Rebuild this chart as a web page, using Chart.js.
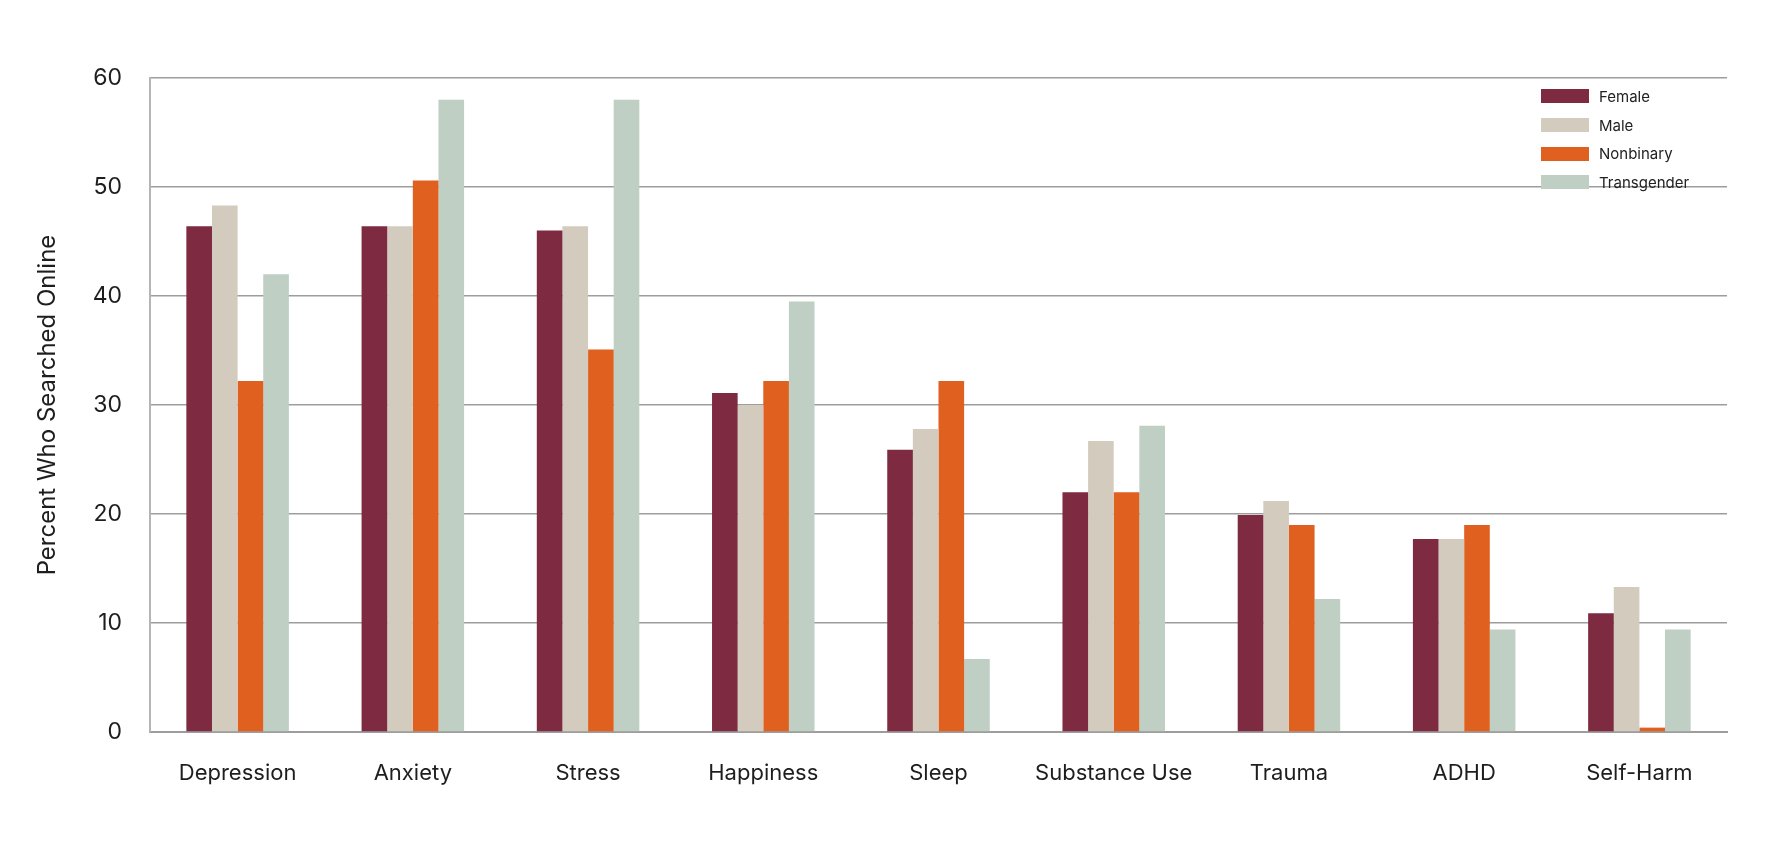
<!DOCTYPE html>
<html>
<head>
<meta charset="utf-8">
<title>Percent Who Searched Online</title>
<script src="https://cdn.jsdelivr.net/npm/chart.js@4.4.1/dist/chart.umd.min.js"></script>
<style>
    body { margin: 0; background: #ffffff; }
    #wrap { position: relative; width: 1783px; height: 848px; }
    #legend {
        position: absolute; left: 1541px; top: 82px;
        font-family: Inter, "Noto Sans", sans-serif; font-size: 15px; color: #222;
    }
    .legend-row { display: flex; align-items: center; height: 28.7px; }
    .legend-box { width: 48px; height: 14px; margin-right: 10px; }
</style>
</head>
<body>
<div id="wrap">
    <canvas id="myChart"></canvas>
    <div id="legend"></div>
</div>
<script>
// categories + values (percent)
const categories = ["Depression", "Anxiety", "Stress", "Happiness", "Sleep", "Substance Use", "Trauma", "ADHD", "Self-Harm"];
const female = [46.4, 46.4, 46.0, 31.1, 25.9, 22.0, 19.9, 17.7, 10.9];
const male = [48.3, 46.4, 46.4, 30.0, 27.8, 26.7, 21.2, 17.7, 13.3];
const nonbinary = [32.2, 50.6, 35.1, 32.2, 32.2, 22.0, 19.0, 19.0, 0.4];
const transgender = [42.0, 58.0, 58.0, 39.5, 6.7, 28.1, 12.2, 9.4, 9.4];
const yTicks = [0, 10, 20, 30, 40, 50, 60];

const seriesNames = ["Female", "Male", "Nonbinary", "Transgender"];
const seriesColors = ["#7e2b41", "#d3cbbe", "#e0601f", "#bfcfc4"];
const seriesData = [female, male, nonbinary, transgender];

const FONT = "Inter, 'Noto Sans', sans-serif";
const gridColor = "#9d9d9d";

let datasets = [];
for (let i = 0; i < seriesNames.length; i++) {
    datasets.push({
        label: seriesNames[i],
        data: seriesData[i],
        backgroundColor: seriesColors[i],
        borderWidth: 0,
        categoryPercentage: 0.585,
        barPercentage: 1.0
    });
}

const ctx = document.getElementById("myChart").getContext("2d");
const myChart = new Chart(ctx, {
    type: "bar",
    data: {
        labels: categories,
        datasets: datasets
    },
    options: {
        responsive: true,
        maintainAspectRatio: false,
        animation: false,
        layout: {
            padding: { left: 0, top: 78, right: 56, bottom: 0 }
        },
        plugins: {
            legend: { display: false },
            tooltip: { enabled: false }
        },
        scales: {
            x: {
                grid: { display: false, drawTicks: false },
                border: { display: true, color: gridColor, width: 2 },
                ticks: {
                    color: "#1e1e1e",
                    padding: 28,
                    font: { family: FONT, size: 22 }
                },
                afterFit: function (scale) {
                    scale.height = 848 - 732;
                }
            },
            y: {
                min: 0,
                max: 60,
                afterBuildTicks: function (scale) {
                    scale.ticks = yTicks.map(v => ({ value: v }));
                },
                grid: { color: gridColor, lineWidth: 1.5, drawTicks: false },
                border: { display: true, color: "#b5b5b5", width: 2 },
                ticks: {
                    color: "#1e1e1e",
                    padding: 28,
                    font: { family: FONT, size: 23 }
                },
                title: {
                    display: true,
                    text: "Percent Who Searched Online",
                    color: "#1e1e1e",
                    padding: { top: 33, bottom: 0 },
                    font: { family: FONT, size: 24 }
                },
                afterFit: function (scale) {
                    scale.width = 150;
                }
            }
        }
    }
});

// legend sits inside the plot, top right
const legendEl = document.getElementById("legend");
for (let i = 0; i < seriesNames.length; i++) {
    let row = document.createElement("div");
    row.className = "legend-row";
    let box = document.createElement("div");
    box.className = "legend-box";
    box.style.background = seriesColors[i];
    let txt = document.createElement("span");
    txt.textContent = seriesNames[i];
    row.appendChild(box);
    row.appendChild(txt);
    legendEl.appendChild(row);
}
</script>
</body>
</html>
